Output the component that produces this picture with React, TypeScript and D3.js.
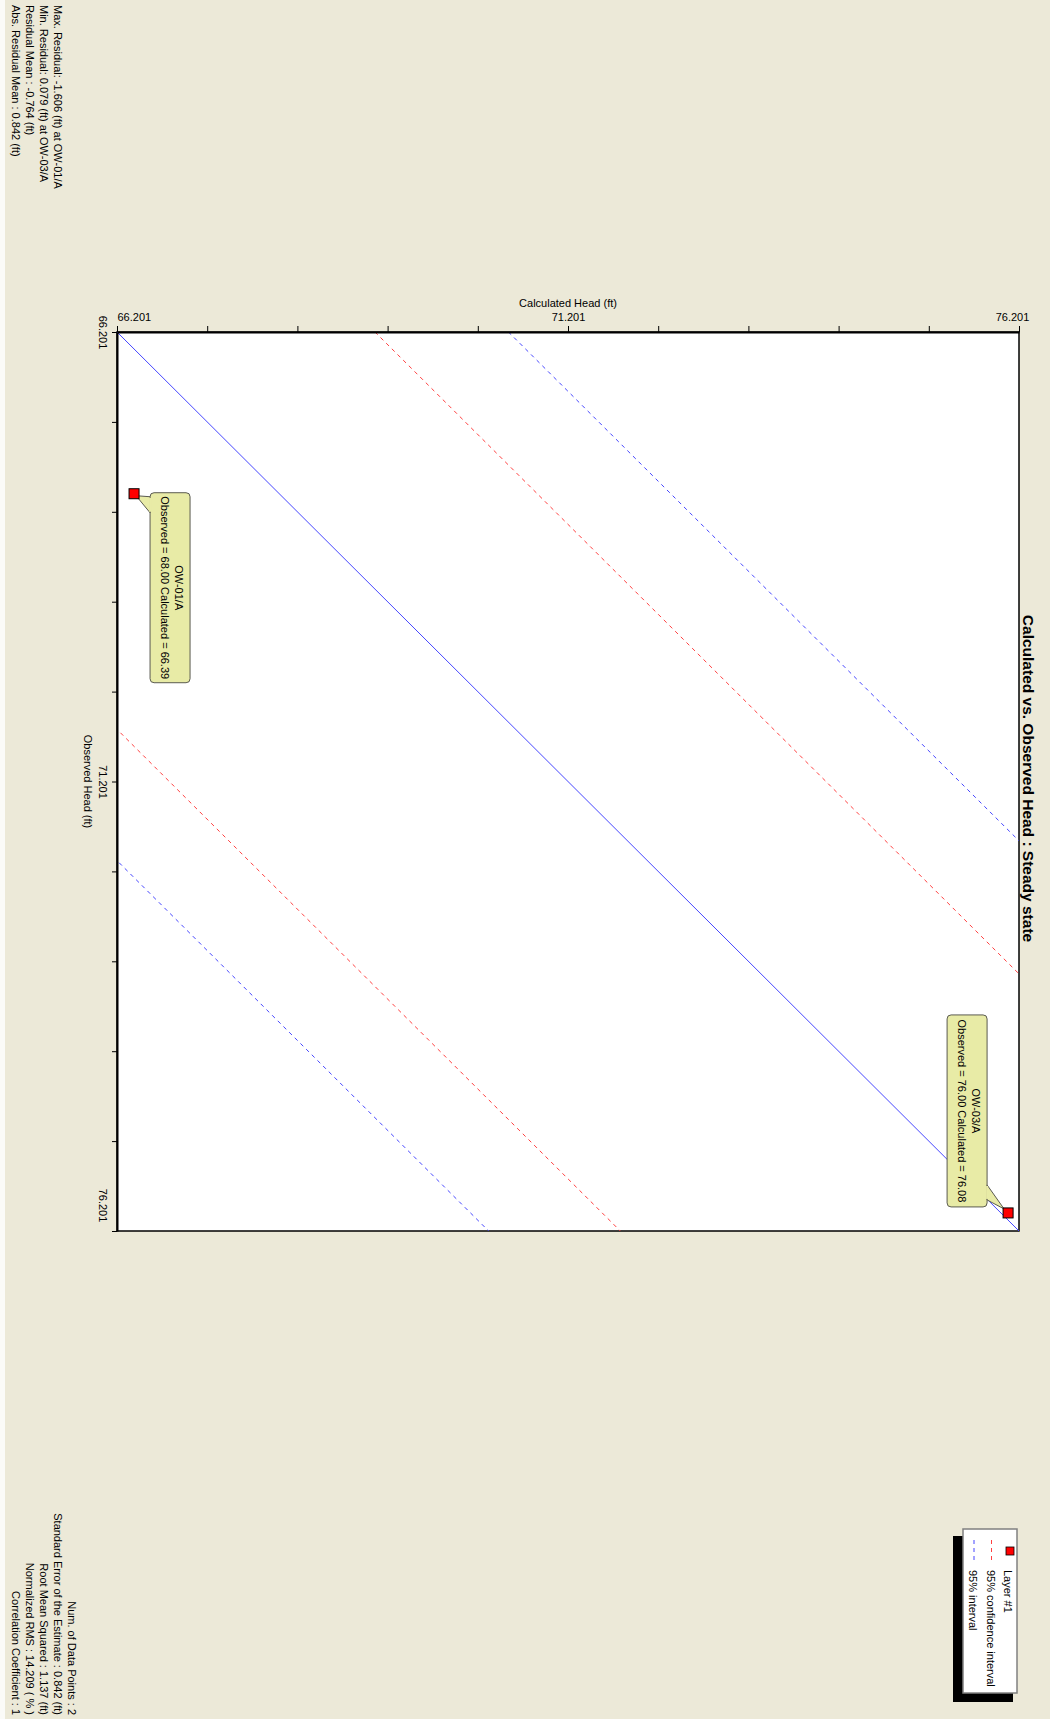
import React, { useEffect, useRef } from "react";
import * as d3 from "d3";

// observation wells
const wells = ["OW-01/A", "OW-03/A"];
const observed = [68.0, 76.0];
const calculated = [66.39, 76.08];

// both axes share the same range
const headDomain = [66.201, 76.201];
const headTicks = [66.201, 67.201, 68.201, 69.201, 70.201, 71.201, 72.201, 73.201, 74.201, 75.201, 76.201];
const labelTicks = [66.201, 71.201, 76.201];

// offsets (calculated - observed) of the dashed bands
const confidenceOffsets = [-4.42, 2.86];
const intervalOffsets = [-5.88, 4.34];

const title = "Calculated vs. Observed Head : Steady state";
const xTitle = "Calculated Head (ft)";
const yTitle = "Observed Head (ft)";

const residualStats = [
  "Max. Residual: -1.606 (ft) at OW-01/A",
  "Min. Residual: 0.079 (ft) at OW-03/A",
  "Residual Mean : -0.764 (ft)",
  "Abs. Residual Mean : 0.842 (ft)",
];
const fitStats = [
  "Num. of Data Points : 2",
  "Standard Error of the Estimate : 0.842 (ft)",
  "Root Mean Squared : 1.137 (ft)",
  "Normalized RMS : 14.209 ( % )",
  "Correlation Coefficient : 1",
];
const legendLabels = ["Layer #1", "95% confidence interval", "95% interval"];

const W = 1050;
const H = 1719;
const FONT = "'Liberation Sans', Arial, sans-serif";
const BG = "#ece9d8";
const RED = "#ff4040";
const BLUE = "#4646ff";

export default function App() {
  const ref = useRef<SVGSVGElement>(null);

  useEffect(() => {
    const svg = d3.select(ref.current);
    svg.selectAll("*").remove();

    const plot = { left: 117, right: 1019, top: 332, bottom: 1231 };

    const x = d3.scaleLinear().domain(headDomain).range([plot.left, plot.right]);
    const y = d3.scaleLinear().domain(headDomain).range([plot.top, plot.bottom]);

    svg.append("rect").attr("width", W).attr("height", H).attr("fill", BG);
    svg.append("rect").attr("width", 5).attr("height", H).attr("fill", "#fbfbf8");

    svg
      .append("defs")
      .append("clipPath")
      .attr("id", "plotclip")
      .append("rect")
      .attr("x", plot.left)
      .attr("y", plot.top)
      .attr("width", plot.right - plot.left)
      .attr("height", plot.bottom - plot.top);

    svg
      .append("rect")
      .attr("x", plot.left)
      .attr("y", plot.top)
      .attr("width", plot.right - plot.left)
      .attr("height", plot.bottom - plot.top)
      .attr("fill", "#fff")
      .attr("stroke", "#000")
      .attr("stroke-width", 1.5);

    // 1:1 line and bands
    const lines = svg.append("g").attr("clip-path", "url(#plotclip)");
    const diag = (off: number) =>
      d3
        .line<number>()
        .x((o) => x(o + off))
        .y((o) => y(o))([headDomain[0] - 12, headDomain[1] + 12]);

    lines.append("path").attr("d", diag(0)).attr("stroke", BLUE).attr("stroke-width", 1).attr("fill", "none");
    confidenceOffsets.forEach((off) => {
      lines
        .append("path")
        .attr("d", diag(off))
        .attr("stroke", RED)
        .attr("stroke-width", 1)
        .attr("stroke-dasharray", "4,4")
        .attr("fill", "none");
    });
    intervalOffsets.forEach((off) => {
      lines
        .append("path")
        .attr("d", diag(off))
        .attr("stroke", BLUE)
        .attr("stroke-width", 1)
        .attr("stroke-dasharray", "4,4")
        .attr("fill", "none");
    });

    // top axis: calculated
    const xAxis = d3
      .axisTop(x)
      .tickValues(headTicks)
      .tickSize(6)
      .tickSizeOuter(0)
      .tickPadding(5)
      .tickFormat((d) => (labelTicks.includes(d as number) ? d3.format(".3f")(d as number) : ""));
    const gx = svg.append("g").attr("transform", "translate(0," + plot.top + ")").call(xAxis);
    gx.select(".domain").attr("stroke-width", 2);
    gx.selectAll("text").attr("font-size", 11).attr("font-family", FONT).attr("fill", "#000");
    gx.selectAll("text")
      .filter((d) => d === headDomain[0])
      .attr("text-anchor", "start");
    gx.selectAll("text")
      .filter((d) => d === headDomain[1])
      .attr("dx", -7);

    // left axis: observed, rotated labels
    const yAxis = d3
      .axisLeft(y)
      .tickValues(headTicks)
      .tickSize(5)
      .tickSizeOuter(0)
      .tickFormat((d) => (labelTicks.includes(d as number) ? d3.format(".3f")(d as number) : ""));
    const gy = svg.append("g").attr("transform", "translate(" + plot.left + ",0)").call(yAxis);
    gy.select(".domain").attr("stroke-width", 2);
    gy.selectAll("text")
      .attr("x", null)
      .attr("dy", null)
      .attr("transform", "translate(-18,0) rotate(90)")
      .attr("text-anchor", "middle")
      .attr("font-size", 11)
      .attr("font-family", FONT)
      .attr("fill", "#000");
    gy.selectAll("text")
      .filter((d) => d === headDomain[1])
      .attr("dx", -26);

    svg
      .append("text")
      .attr("x", (plot.left + plot.right) / 2)
      .attr("y", 307)
      .attr("text-anchor", "middle")
      .attr("font-size", 11)
      .attr("font-family", FONT)
      .text(xTitle);
    svg
      .append("text")
      .attr("transform", "translate(84," + (plot.top + plot.bottom) / 2 + ") rotate(90)")
      .attr("text-anchor", "middle")
      .attr("font-size", 11)
      .attr("font-family", FONT)
      .text(yTitle);

    // title
    svg
      .append("text")
      .attr("transform", "translate(1023," + ((plot.top + plot.bottom) / 2 - 3) + ") rotate(90)")
      .attr("text-anchor", "middle")
      .attr("font-size", 15.5)
      .attr("font-weight", "bold")
      .attr("font-family", FONT)
      .text(title);

    // callouts
    wells.forEach((name, i) => {
      const px = x(calculated[i]);
      const py = y(observed[i]);
      const below = i === 0;
      const rw = 40;
      const rh = below ? 190 : 192;
      const rx = below ? px + 16 : px - 61;
      const ry = below ? py - 1 : py - 198;
      const tail = below
        ? [[rx, ry + 4], [rx, ry + 20], [px + 2, py + 2]]
        : [[rx + rw, ry + rh - 22], [rx + rw, ry + rh - 7], [px - 4, py - 4]];

      const g = svg.append("g");
      g.append("rect")
        .attr("x", rx)
        .attr("y", ry)
        .attr("width", rw)
        .attr("height", rh)
        .attr("rx", 4)
        .attr("fill", "#e8eba6")
        .attr("stroke", "#5a5a50")
        .attr("stroke-width", 1);
      g.append("polygon")
        .attr("points", tail.map((p) => p.join(",")).join(" "))
        .attr("fill", "#e8eba6")
        .attr("stroke", "#5a5a50")
        .attr("stroke-width", 1);
      // hide the rect edge under the tail
      g.append("line")
        .attr("x1", tail[0][0])
        .attr("y1", tail[0][1] + 1)
        .attr("x2", tail[1][0])
        .attr("y2", tail[1][1] - 1)
        .attr("stroke", "#e8eba6")
        .attr("stroke-width", 2);

      const lab = g
        .append("text")
        .attr("transform", "translate(" + (rx + 25) + "," + (ry + rh / 2) + ") rotate(90)")
        .attr("text-anchor", "middle")
        .attr("font-size", 11)
        .attr("font-family", FONT);
      lab.append("tspan").attr("x", 0).attr("y", 0).text(name);
      lab
        .append("tspan")
        .attr("x", 0)
        .attr("y", 14)
        .text(
          "Observed = " + observed[i].toFixed(2) + " Calculated = " + calculated[i].toFixed(2)
        );

      svg
        .append("rect")
        .attr("x", px - 5)
        .attr("y", py - 5)
        .attr("width", 10)
        .attr("height", 10)
        .attr("fill", "#f00")
        .attr("stroke", "#000")
        .attr("stroke-width", 1);
    });

    // stats blocks
    const rs = svg
      .append("text")
      .attr("transform", "translate(54,5) rotate(90)")
      .attr("font-size", 11)
      .attr("font-family", FONT);
    residualStats.forEach((s, i) => rs.append("tspan").attr("x", 0).attr("y", i * 14).text(s));

    const fs = svg
      .append("text")
      .attr("transform", "translate(68,1715) rotate(90)")
      .attr("text-anchor", "end")
      .attr("font-size", 11)
      .attr("font-family", FONT);
    fitStats.forEach((s, i) => fs.append("tspan").attr("x", 0).attr("y", i * 14).text(s));

    // legend
    const lg = svg.append("g");
    lg.append("rect").attr("x", 953).attr("y", 1536).attr("width", 60).attr("height", 166).attr("fill", "#000");
    lg.append("rect")
      .attr("x", 963)
      .attr("y", 1529)
      .attr("width", 54)
      .attr("height", 164)
      .attr("fill", "#fff")
      .attr("stroke", "#808080")
      .attr("stroke-width", 1.5);
    legendLabels.forEach((label, i) => {
      const cx = 1010 - i * 17.5;
      if (i === 0) {
        lg.append("rect")
          .attr("x", cx - 4)
          .attr("y", 1547)
          .attr("width", 8)
          .attr("height", 8)
          .attr("fill", "#f00")
          .attr("stroke", "#000")
          .attr("stroke-width", 0.8);
      } else {
        lg.append("line")
          .attr("x1", cx - 1)
          .attr("x2", cx - 1)
          .attr("y1", 1540)
          .attr("y2", 1562)
          .attr("stroke", i === 1 ? RED : BLUE)
          .attr("stroke-dasharray", "4,4");
      }
      lg.append("text")
        .attr("transform", "translate(" + (cx - 6) + ",1570) rotate(90)")
        .attr("font-size", 11)
        .attr("font-family", FONT)
        .text(label);
    });
  }, []);

  return (
    <svg
      ref={ref}
      width={W}
      height={H}
      style={{ position: "absolute", left: 0, top: 0, display: "block" }}
    />
  );
}
